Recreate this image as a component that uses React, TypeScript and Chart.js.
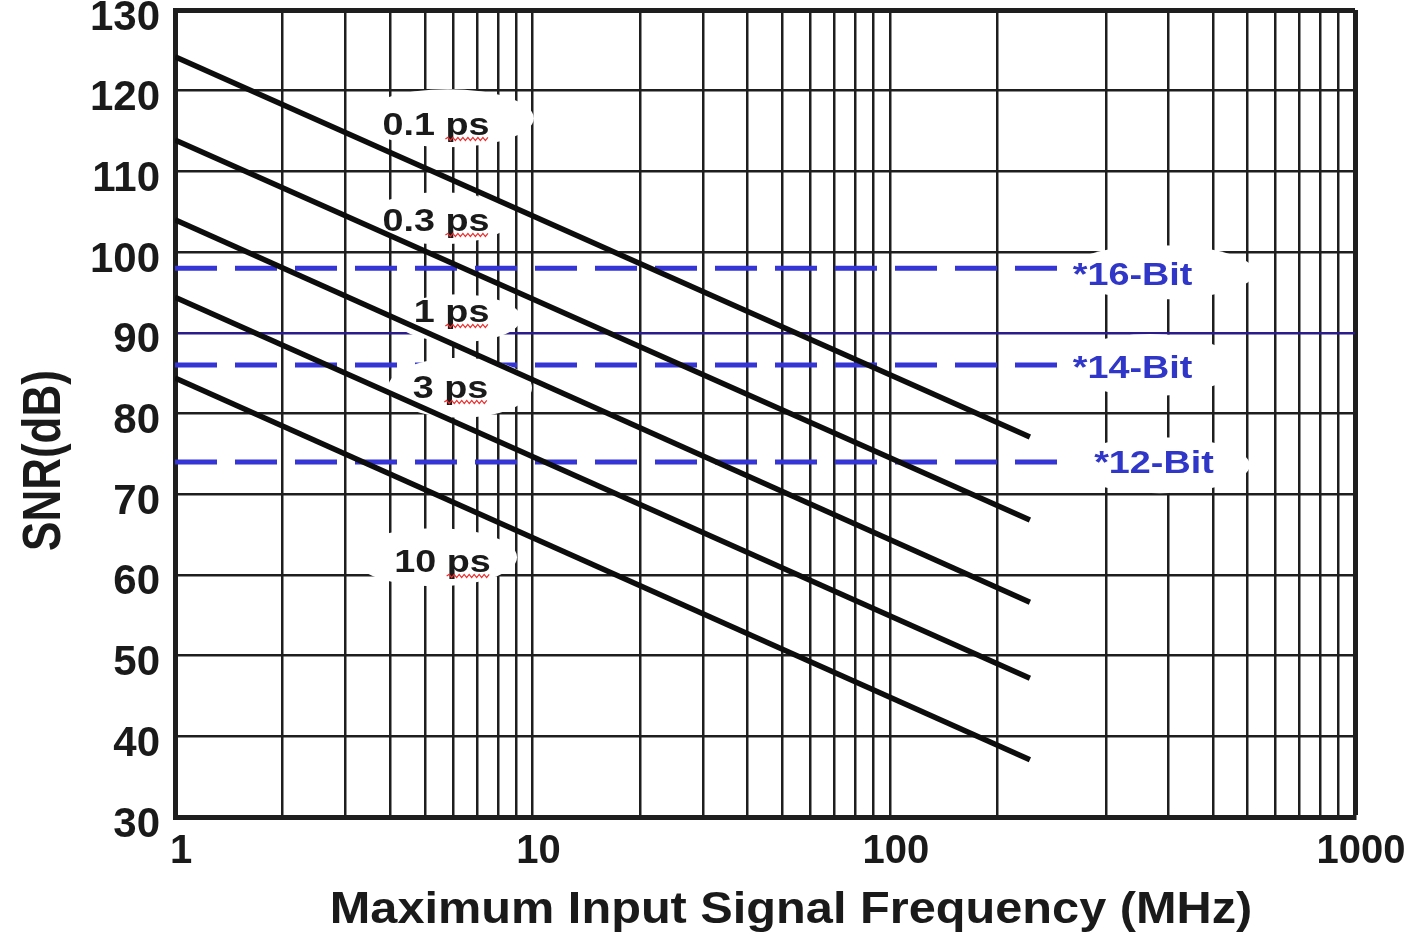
import React, { useEffect, useRef } from 'react';
import { Chart, registerables, LogarithmicScale } from 'chart.js';

Chart.register(...registerables);

// ---------------- data ----------------
const JITTER_LABELS = ['0.1 ps', '0.3 ps', '1 ps', '3 ps', '10 ps'];
const LINE_FREQ = [1, 216]; // MHz
const SNR_0P1PS = [124.2, 77.1];
const SNR_0P3PS = [113.9, 66.8];
const SNR_1PS = [104.0, 56.6];
const SNR_3PS = [94.4, 47.2];
const SNR_10PS = [84.4, 37.1];
const JITTER_SERIES = [SNR_0P1PS, SNR_0P3PS, SNR_1PS, SNR_3PS, SNR_10PS];

const BIT_LABELS = ['*16-Bit', '*14-Bit', '*12-Bit'];
const BIT_FREQ = [1, 235];
const BIT_SNR = [98.0, 86.0, 74.0];

const Y_MIN = 30;
const Y_MAX = 130;
const Y_STEP = 10;
const Y_HIGHLIGHT = 90;

const X_MIN = 1;
const X_MAX = 1000;
const X_TICK_LABELS = [1, 10, 100, 1000];
const X_GRID_VALUES = [
  1, 2, 3, 4, 5, 6, 7, 8, 9,
  10, 20, 30, 40, 50, 60, 70, 80, 90,
  100, 200, 259, 300, 400, 500, 600, 700, 800, 900, 1000,
];

const X_TITLE = 'Maximum Input Signal Frequency (MHz)';
const Y_TITLE = 'SNR(dB)';

// The printed frequency axis is not a clean log axis: its last decade is stretched.
const X_WARP_VALUES = [1, 200, 300, 1000];
const X_WARP_DECADES = [0, Math.log10(200), Math.log10(600), Math.log10(2000)];

// annotation anchors (data coordinates)
const JITTER_TEXT_FREQ = [5.37, 5.37, 5.94, 5.9, 5.6];
const JITTER_TEXT_SNR = [114.51, 102.61, 91.34, 81.92, 60.36];
const JITTER_BG_FREQ = [5.8, 5.51, 6.19, 6.27, 5.34];
const JITTER_BG_SNR = [116.6, 104.2, 91.8, 83.2, 62.2];

const BIT_TEXT_FREQ = [275.7, 275.7, 290.1];
const BIT_TEXT_SNR = [95.92, 84.4, 72.63];
const BIT_BG_FREQ = [294.2, 287.4, 294.2];
const BIT_BG_SNR = [97.5, 86.0, 73.6];

// ---------------- styles ----------------
const FONT = '"Liberation Sans", Arial, Helvetica, sans-serif';
const INK = '#1a1a1a';
const GRID = '#1e1e1e';
const NAVY = '#2a1c8a';
const BLUE_LINE = '#3535d6';
const BLUE_TEXT = '#2f36c8';
const JITTER_BG_RX = [86, 72, 63, 72, 82];
const JITTER_BG_RY = [29, 26, 24, 30, 29];
const BIT_BG_RX = [95, 85, 90];
const BIT_BG_RY = [27, 31, 28];
const LABEL_SIZE = 32;
const LABEL_STRETCH = 1.18;

// ---------------- warped log scale ----------------
function warp(v: number): number {
  const lv = Math.log10(Math.max(v, 1e-9));
  const n = X_WARP_VALUES.length;
  let i = 0;
  while (i < n - 2 && v > X_WARP_VALUES[i + 1]) i++;
  const a = Math.log10(X_WARP_VALUES[i]);
  const b = Math.log10(X_WARP_VALUES[i + 1]);
  const t = (lv - a) / (b - a);
  return X_WARP_DECADES[i] + t * (X_WARP_DECADES[i + 1] - X_WARP_DECADES[i]);
}
function unwarp(d: number): number {
  const n = X_WARP_DECADES.length;
  let i = 0;
  while (i < n - 2 && d > X_WARP_DECADES[i + 1]) i++;
  const t = (d - X_WARP_DECADES[i]) / (X_WARP_DECADES[i + 1] - X_WARP_DECADES[i]);
  const a = Math.log10(X_WARP_VALUES[i]);
  const b = Math.log10(X_WARP_VALUES[i + 1]);
  return Math.pow(10, a + t * (b - a));
}

class WarpedLogScale extends (LogarithmicScale as any) {
  static id = 'warpedLog';
  static defaults = {};
  buildTicks() {
    return X_GRID_VALUES.map((value) => ({ value }));
  }
  getPixelForValue(value: any) {
    const v = value === undefined || value === null || isNaN(value) ? this.min : value;
    const d0 = warp(this.min);
    const d1 = warp(this.max);
    return this.getPixelForDecimal((warp(v) - d0) / (d1 - d0));
  }
  getValueForPixel(pixel: number) {
    const d0 = warp(this.min);
    const d1 = warp(this.max);
    return unwarp(d0 + this.getDecimalForPixel(pixel) * (d1 - d0));
  }
}
Chart.register(WarpedLogScale as any);

// ---------------- drawing helpers ----------------
function drawStretched(ctx: CanvasRenderingContext2D, text: string, cx: number, baseY: number, size: number, sx: number, color: string) {
  ctx.save();
  ctx.font = `bold ${size}px ${FONT}`;
  ctx.fillStyle = color;
  ctx.textAlign = 'center';
  ctx.textBaseline = 'alphabetic';
  ctx.translate(cx, baseY);
  ctx.scale(sx, 1);
  ctx.fillText(text, 0, 0);
  ctx.restore();
}

function drawSquiggle(ctx: CanvasRenderingContext2D, x0: number, x1: number, y: number) {
  ctx.save();
  ctx.strokeStyle = '#ee2a2a';
  ctx.lineWidth = 1.2;
  ctx.beginPath();
  ctx.moveTo(x0, y);
  let up = true;
  for (let x = x0 + 2.5; x <= x1; x += 2.5) {
    ctx.lineTo(x, up ? y - 1.6 : y + 1.6);
    up = !up;
  }
  ctx.stroke();
  ctx.restore();
}

function drawBackgrounds(chart: any) {
  const { ctx, scales } = chart;
  const xs = scales.x;
  const ys = scales.y;
  ctx.save();
  ctx.fillStyle = '#ffffff';
  JITTER_LABELS.forEach((_, i) => {
    ctx.beginPath();
    ctx.ellipse(xs.getPixelForValue(JITTER_BG_FREQ[i]), ys.getPixelForValue(JITTER_BG_SNR[i]), JITTER_BG_RX[i], JITTER_BG_RY[i], 0, 0, Math.PI * 2);
    ctx.fill();
  });
  BIT_LABELS.forEach((_, i) => {
    ctx.beginPath();
    ctx.ellipse(xs.getPixelForValue(BIT_BG_FREQ[i]), ys.getPixelForValue(BIT_BG_SNR[i]), BIT_BG_RX[i], BIT_BG_RY[i], 0, 0, Math.PI * 2);
    ctx.fill();
  });
  ctx.restore();
}

function drawLabels(chart: any) {
  const { ctx, scales } = chart;
  const xs = scales.x;
  const ys = scales.y;
  JITTER_LABELS.forEach((text, i) => {
    const cx = xs.getPixelForValue(JITTER_TEXT_FREQ[i]);
    const by = ys.getPixelForValue(JITTER_TEXT_SNR[i]);
    drawStretched(ctx, text, cx, by, LABEL_SIZE, LABEL_STRETCH, INK);
    ctx.save();
    ctx.font = `bold ${LABEL_SIZE}px ${FONT}`;
    const total = ctx.measureText(text).width * LABEL_STRETCH;
    const idx = text.lastIndexOf('ps');
    const pre = ctx.measureText(text.slice(0, idx)).width * LABEL_STRETCH;
    const psw = ctx.measureText('ps').width * LABEL_STRETCH;
    ctx.restore();
    const left = cx - total / 2 + pre;
    drawSquiggle(ctx, left, left + psw, by + 4);
  });
  BIT_LABELS.forEach((text, i) => {
    drawStretched(ctx, text, xs.getPixelForValue(BIT_TEXT_FREQ[i]), ys.getPixelForValue(BIT_TEXT_SNR[i]), LABEL_SIZE, LABEL_STRETCH, BLUE_TEXT);
  });
}

function drawAxisTitles(chart: any) {
  const { ctx, chartArea } = chart;
  // x title
  drawStretched(ctx, X_TITLE, (chartArea.left + chartArea.right) / 2 + 26, chartArea.bottom + 106, 45, 1.082, INK);
  // y title (rotated)
  ctx.save();
  ctx.font = `bold 44px ${FONT}`;
  ctx.fillStyle = INK;
  ctx.textAlign = 'center';
  ctx.textBaseline = 'alphabetic';
  ctx.translate(60, (chartArea.top + chartArea.bottom) / 2 + 47);
  ctx.rotate(-Math.PI / 2);
  ctx.scale(1, 1.2);
  ctx.fillText(Y_TITLE, 0, 0);
  ctx.restore();
}

const annotationPlugin = {
  id: 'snrAnnotations',
  beforeDatasetsDraw(chart: any) {
    chart.$bgDrawn = false;
  },
  beforeDatasetDraw(chart: any, args: any) {
    const ds = chart.data.datasets[args.index];
    if (ds && ds.isJitter && !chart.$bgDrawn) {
      drawBackgrounds(chart);
      chart.$bgDrawn = true;
    }
  },
  afterDatasetsDraw(chart: any) {
    if (!chart.$bgDrawn) drawBackgrounds(chart);
    drawLabels(chart);
  },
  afterDraw(chart: any) {
    drawAxisTitles(chart);
  },
};

export default function App() {
  const canvasRef = useRef<HTMLCanvasElement | null>(null);

  useEffect(() => {
    const canvas = canvasRef.current;
    if (!canvas) return;

    const jitterSets = JITTER_SERIES.map((series, i) => ({
      label: JITTER_LABELS[i],
      data: LINE_FREQ.map((f, j) => ({ x: f, y: series[j] })),
      borderColor: '#0d0d0d',
      backgroundColor: '#0d0d0d',
      borderWidth: 5.5,
      pointRadius: 0,
      fill: false,
      tension: 0,
      order: 0,
      isJitter: true,
    }));
    const bitSets = BIT_SNR.map((snr, i) => ({
      label: BIT_LABELS[i],
      data: BIT_FREQ.map((f) => ({ x: f, y: snr })),
      borderColor: BLUE_LINE,
      backgroundColor: BLUE_LINE,
      borderWidth: 5,
      borderDash: [42, 18],
      pointRadius: 0,
      fill: false,
      tension: 0,
      order: 1,
    }));

    const chart = new Chart(canvas, {
      type: 'line',
      data: { datasets: [...jitterSets, ...bitSets] as any },
      options: {
        responsive: false,
        maintainAspectRatio: false,
        animation: false,
        devicePixelRatio: 1,
        layout: { padding: { top: 10, right: 51, left: 0, bottom: 0 } },
        plugins: {
          legend: { display: false },
          tooltip: { enabled: false },
          title: { display: false },
        },
        scales: {
          x: {
            type: 'warpedLog' as any,
            min: X_MIN,
            max: X_MAX,
            afterFit: (scale: any) => {
              scale.height = 122;
              scale.paddingLeft = 0;
              scale.paddingRight = 0;
            },
            grid: {
              color: GRID,
              lineWidth: (c: any) => (c.tick && c.tick.value === X_MAX ? 5 : 2.5),
              drawTicks: false,
            },
            border: { display: true, color: GRID, width: 5 },
            ticks: {
              autoSkip: false,
              maxRotation: 0,
              minRotation: 0,
              padding: 11,
              labelOffset: 6,
              color: INK,
              font: { family: FONT, size: 40, weight: 'bold' },
              callback: (v: any) => (X_TICK_LABELS.includes(Number(v)) ? String(v) : ''),
            },
            title: { display: false },
          },
          y: {
            type: 'linear',
            min: Y_MIN,
            max: Y_MAX,
            afterFit: (scale: any) => {
              scale.width = 175;
              scale.paddingTop = 0;
              scale.paddingBottom = 0;
            },
            grid: {
              color: (c: any) => (c.tick && c.tick.value === Y_HIGHLIGHT ? NAVY : GRID),
              lineWidth: (c: any) => (c.tick && c.tick.value === Y_MAX ? 5 : 2.5),
              drawTicks: false,
            },
            border: { display: true, color: GRID, width: 5 },
            ticks: {
              stepSize: Y_STEP,
              padding: 15,
              labelOffset: 8,
              color: INK,
              font: { family: FONT, size: 42, weight: 'bold' },
            },
            title: { display: false },
          },
        },
      } as any,
      plugins: [annotationPlugin],
    });

    return () => chart.destroy();
  }, []);

  return (
    <div style={{ position: 'absolute', left: 0, top: 0, width: 1406, height: 939, background: '#ffffff' }}>
      <canvas ref={canvasRef} width={1406} height={939} style={{ display: 'block' }} />
    </div>
  );
}
